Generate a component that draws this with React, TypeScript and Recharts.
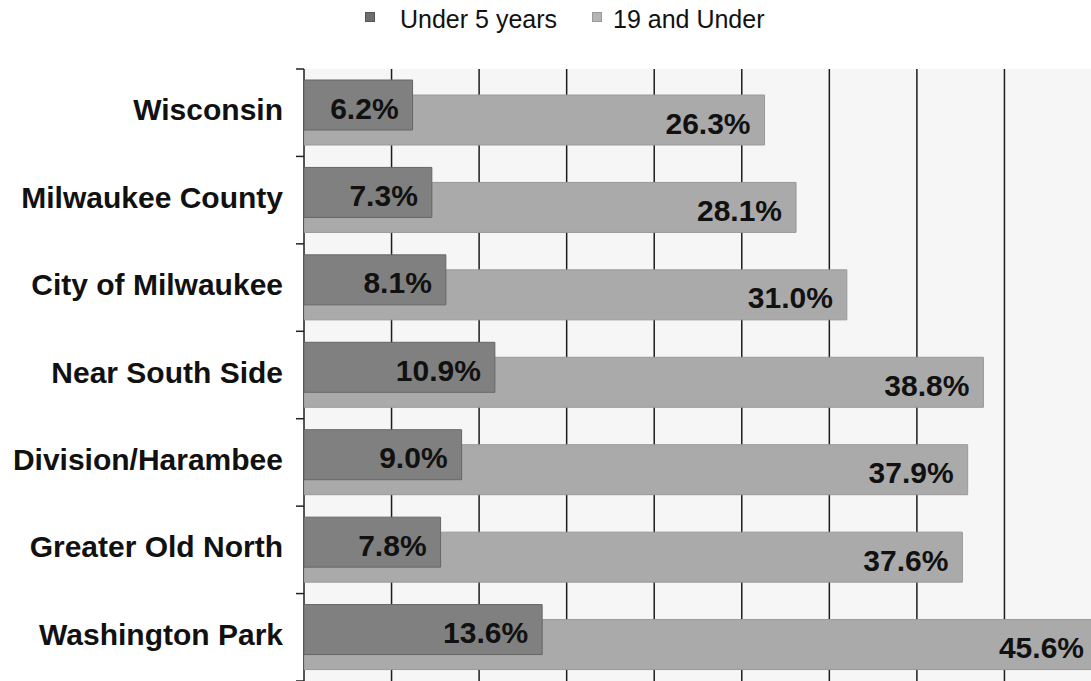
import { BarChart, Bar, XAxis, YAxis, CartesianGrid, LabelList } from "recharts";

const categories = [
  "Wisconsin",
  "Milwaukee County",
  "City of Milwaukee",
  "Near South Side",
  "Division/Harambee",
  "Greater Old North",
  "Washington Park",
];
const under5 = [6.2, 7.3, 8.1, 10.9, 9.0, 7.8, 13.6];
const under19 = [26.3, 28.1, 31.0, 38.8, 37.9, 37.6, 45.6];
const xTicks = [0, 5, 10, 15, 20, 25, 30, 35, 40, 45];

const data = categories.map((name, i) => ({
  name,
  under5: under5[i],
  under19: under19[i],
}));

const CHART_W = 1100;
const CHART_H = 681;
const MARGIN = { top: 69, right: 8, bottom: 0, left: 0 };
const AXIS_W = 304;
const PLOT_RIGHT = CHART_W - MARGIN.right;
const BAND = (CHART_H - MARGIN.top - MARGIN.bottom) / categories.length;
const FONT = "'Liberation Sans', Arial, sans-serif";

const CategoryTick = (props: any) => {
  const { x, y, payload, index } = props;
  return (
    <g>
      <text
        x={x - 21}
        y={y - 3}
        textAnchor="end"
        dominantBaseline="central"
        fontSize={30}
        fontWeight="bold"
        fontFamily={FONT}
        fill="#111"
      >
        {payload.value}
      </text>
      <line x1={x - 8} x2={x} y1={y - BAND / 2} y2={y - BAND / 2} stroke="#222" strokeWidth={1.5} />
      {index === categories.length - 1 && (
        <line x1={x - 8} x2={x} y1={y + BAND / 2} y2={y + BAND / 2} stroke="#222" strokeWidth={1.5} />
      )}
    </g>
  );
};

// value label at the inside end of the bar, kept inside the plot when the bar is clipped
const EndLabel = (props: any) => {
  const { x, y, width, height, value } = props;
  const clipped = x + width > PLOT_RIGHT;
  const end = clipped ? PLOT_RIGHT - 8 : x + width - 14;
  return (
    <text
      x={end}
      y={y + height / 2 + 3}
      textAnchor="end"
      dominantBaseline="central"
      fontSize={30}
      fontWeight="bold"
      fontFamily={FONT}
      fill="#111"
    >
      {Number(value).toFixed(1)}%
    </text>
  );
};

function LegendBox() {
  const text = {
    position: "absolute" as const,
    top: 7,
    fontSize: 25,
    lineHeight: "25px",
    fontFamily: FONT,
    color: "#111",
    whiteSpace: "nowrap" as const,
  };
  const box = { position: "absolute" as const, top: 12, width: 8, height: 8 };
  return (
    <>
      <div style={{ ...box, left: 365, background: "#6e6e6e", border: "1px solid #555" }} />
      <div style={{ ...text, left: 400 }}>Under 5 years</div>
      <div style={{ ...box, left: 592, background: "#b4b4b4", border: "1px solid #999" }} />
      <div style={{ ...text, left: 613 }}>19 and Under</div>
    </>
  );
}

export default function App() {
  return (
    <div
      style={{
        position: "fixed",
        left: 0,
        top: 0,
        width: 1091,
        height: 681,
        overflow: "hidden",
        background: "#fff",
      }}
    >
      <LegendBox />
      <BarChart
        width={CHART_W}
        height={CHART_H}
        data={data}
        layout="vertical"
        margin={MARGIN}
        barSize={50}
        barGap={-65}
      >
        <CartesianGrid horizontal={false} stroke="#1c1c1c" strokeWidth={1.5} fill="#f6f6f6" />
        <XAxis type="number" domain={[0, 45]} ticks={xTicks} allowDataOverflow hide />
        <YAxis
          type="category"
          dataKey="name"
          width={AXIS_W}
          axisLine={false}
          tickLine={false}
          tickSize={0}
          tickMargin={0}
          tick={<CategoryTick />}
          interval={0}
        />
        <Bar dataKey="under19" name="19 and Under" fill="#aaaaaa" stroke="#999" strokeWidth={1} isAnimationActive={false}>
          <LabelList dataKey="under19" content={<EndLabel />} />
        </Bar>
        <Bar dataKey="under5" name="Under 5 years" fill="#808080" stroke="#666" strokeWidth={1} isAnimationActive={false}>
          <LabelList dataKey="under5" content={<EndLabel />} />
        </Bar>
      </BarChart>
    </div>
  );
}
